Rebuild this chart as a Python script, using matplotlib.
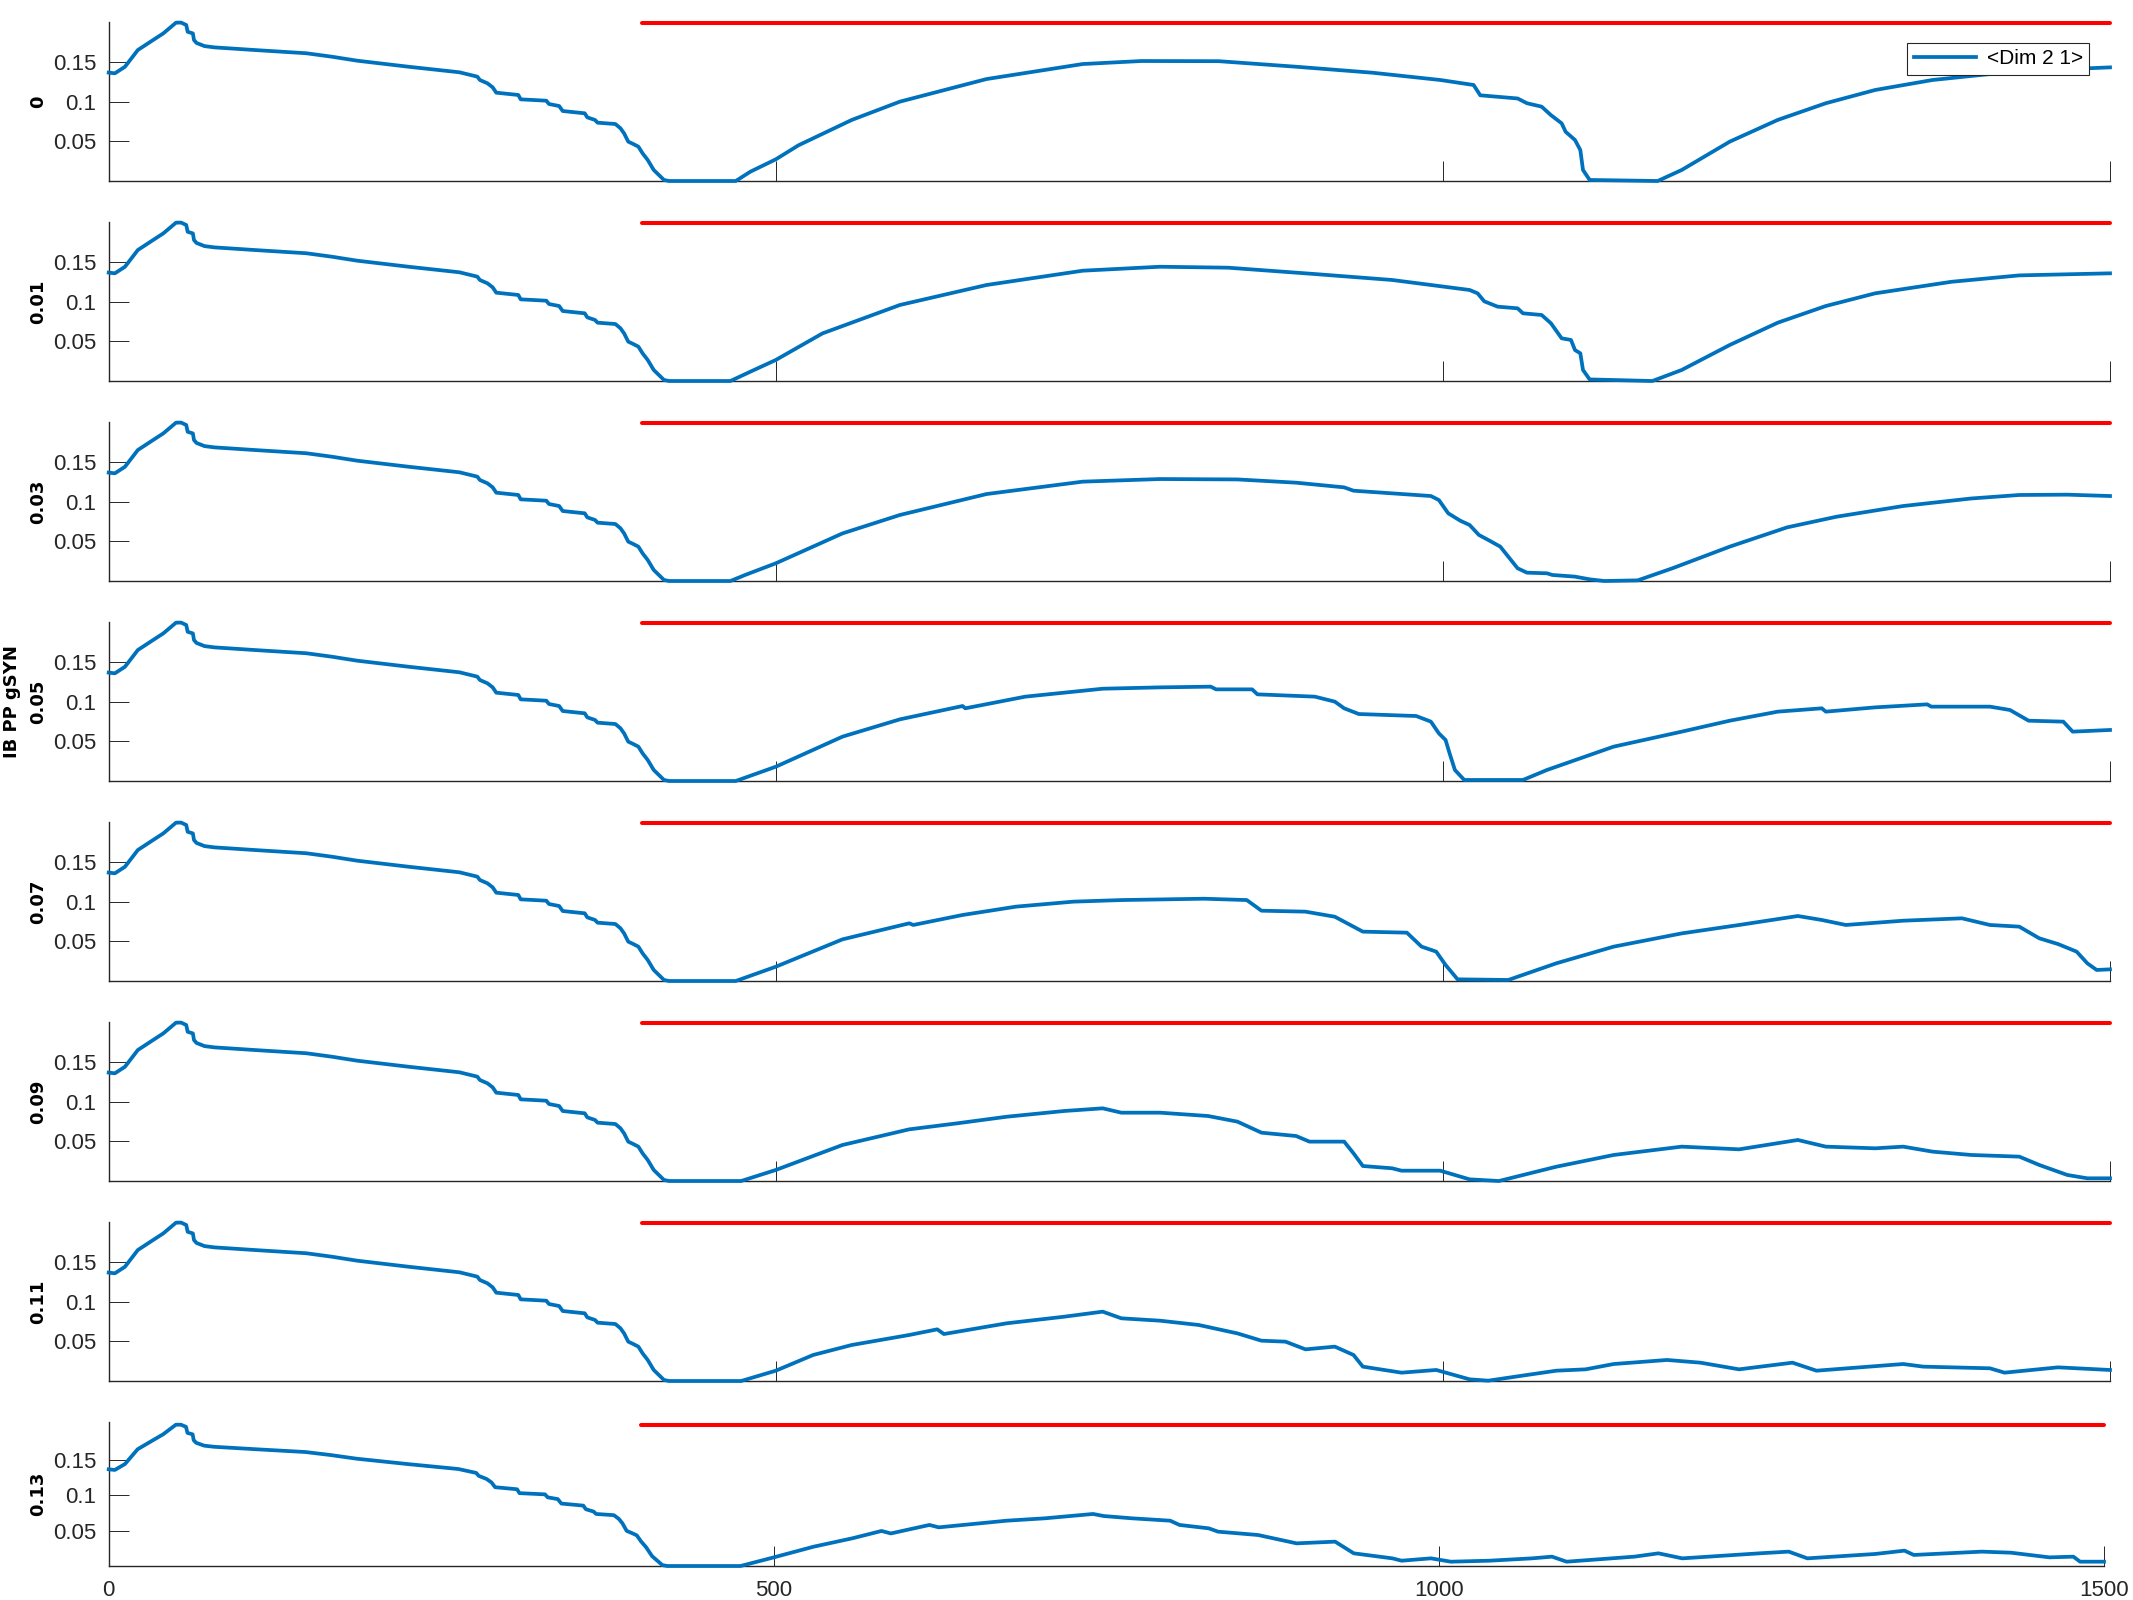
import matplotlib
matplotlib.use('Agg')
import matplotlib.pyplot as plt

plt.rcParams['font.family'] = ['Liberation Sans', 'DejaVu Sans']

# ---------------- data ----------------
# common start shared by all panels
t_common = [0, 4.6, 12.2, 21.8, 33.3, 40.9, 50.5, 54.3, 58.1, 59.2, 63.1, 63.9, 65.8, 71.8, 79.2,
            110, 148, 167, 186.3, 224.7, 262.9, 276.3, 278.2, 284, 287.8, 290.5, 307, 308.8, 328,
            330, 337.6, 340.3, 356.8, 358.7, 364.5, 366.4, 379.8, 383.6, 386.3, 389.4, 393.2, 397,
            400.1, 404, 408.5, 416.2, 420]
y_common = [0.1366, 0.1357, 0.144, 0.165, 0.1777, 0.186, 0.1996, 0.1996, 0.1966, 0.188, 0.186,
            0.1777, 0.174, 0.170, 0.1684, 0.165, 0.161, 0.1567, 0.1516, 0.144, 0.137, 0.1315,
            0.1273, 0.123, 0.118, 0.1113, 0.1084, 0.1029, 0.1012, 0.097, 0.0945, 0.0882, 0.0853,
            0.0802, 0.0769, 0.0735, 0.0718, 0.0664, 0.06, 0.0496, 0.0466, 0.0433, 0.035, 0.0265,
            0.0139, 0.0013, 0.0]

t_g000 = [470, 481, 500, 517, 557, 593, 658, 730, 774, 832, 890, 947, 998, 1023, 1028, 1056, 1063,
          1074, 1081, 1089, 1092, 1099, 1103, 1105, 1110, 1161, 1179, 1215, 1251, 1287, 1324, 1367,
          1410, 1454, 1500]
y_g000 = [0, 0.0118, 0.0273, 0.045, 0.077, 0.10, 0.1285, 0.1474, 0.1512, 0.151, 0.144, 0.1365,
          0.1273, 0.121, 0.108, 0.104, 0.098, 0.0937, 0.083, 0.0727, 0.062, 0.0517, 0.039, 0.0139,
          0.0013, 0, 0.0139, 0.0496, 0.077, 0.098, 0.1147, 0.1273, 0.1348, 0.14, 0.1432]

t_g001 = [466, 481, 500, 535, 593, 658, 730, 788, 839, 904, 962, 1020, 1026, 1031, 1041, 1056, 1060,
          1074, 1081, 1089, 1096, 1099, 1103, 1105, 1110, 1157, 1179, 1215, 1251, 1287, 1324, 1381,
          1432, 1500]
y_g001 = [0, 0.0118, 0.0265, 0.06, 0.0958, 0.121, 0.139, 0.144, 0.1428, 0.1348, 0.1273, 0.1147,
          0.1105, 0.1004, 0.0937, 0.0916, 0.0853, 0.0832, 0.0727, 0.0538, 0.0517, 0.039, 0.0349,
          0.0139, 0.002, 0, 0.0139, 0.0454, 0.0735, 0.0945, 0.1105, 0.125, 0.1331, 0.1357]

t_g003 = [466, 477, 500, 550, 593, 658, 730, 788, 846, 890, 926, 933, 991, 997, 1004, 1013, 1020,
          1027, 1034, 1043, 1049, 1056, 1063, 1078, 1082, 1099, 1110, 1121, 1146, 1172, 1215, 1258,
          1295, 1345, 1396, 1432, 1468, 1500]
y_g003 = [0, 0.0076, 0.0223, 0.06, 0.0832, 0.1096, 0.1252, 0.1285, 0.128, 0.1239, 0.118, 0.1138,
          0.1071, 0.102, 0.0853, 0.076, 0.0706, 0.058, 0.0517, 0.0433, 0.0307, 0.016, 0.0105,
          0.0097, 0.0076, 0.0055, 0.0021, 0, 0.0008, 0.016, 0.0433, 0.0676, 0.081, 0.0945, 0.104,
          0.1084, 0.1088, 0.1071]

t_g005 = [470, 500, 550, 593, 640, 642, 687, 745, 788, 826, 830, 857, 861, 904, 919, 926, 937, 980,
          991, 997, 1002, 1005, 1009, 1016, 1060, 1078, 1128, 1179, 1215, 1251, 1284, 1287, 1324,
          1363, 1366, 1410, 1425, 1439, 1465, 1472, 1500]
y_g005 = [0, 0.018, 0.0559, 0.0777, 0.0945, 0.0916, 0.1063, 0.1163, 0.118, 0.1189, 0.1155, 0.1155,
          0.1092, 0.1063, 0.1, 0.0916, 0.0844, 0.0819, 0.0748, 0.06, 0.0517, 0.0349, 0.0139, 0.0013,
          0.0013, 0.0139, 0.0433, 0.0622, 0.076, 0.0874, 0.0916, 0.0874, 0.0928, 0.0966, 0.0937,
          0.0937, 0.0895, 0.076, 0.0748, 0.0622, 0.0643]

t_g007 = [470, 500, 550, 600, 603, 640, 680, 723, 759, 821, 853, 864, 897, 919, 940, 973, 984, 995,
          1002, 1011, 1049, 1085, 1128, 1179, 1222, 1266, 1284, 1302, 1345, 1389, 1410, 1432, 1447,
          1461, 1475, 1483, 1490, 1500]
y_g007 = [0, 0.018, 0.0525, 0.0727, 0.0706, 0.0832, 0.0937, 0.1, 0.102, 0.1037, 0.102, 0.0886,
          0.0874, 0.081, 0.0622, 0.0609, 0.0433, 0.037, 0.0202, 0.0021, 0.0013, 0.0223, 0.0433,
          0.06, 0.0706, 0.0819, 0.0769, 0.0706, 0.076, 0.079, 0.0706, 0.0685, 0.0538, 0.0466,
          0.037, 0.0223, 0.0139, 0.0147]

t_g009 = [474, 500, 550, 600, 636, 673, 716, 745, 759, 788, 824, 846, 864, 890, 900, 926, 933, 940,
          962, 969, 998, 1020, 1042, 1085, 1128, 1179, 1222, 1266, 1287, 1324, 1345, 1367, 1396,
          1432, 1447, 1468, 1483, 1500]
y_g009 = [0, 0.0139, 0.0454, 0.0651, 0.0727, 0.081, 0.0882, 0.0916, 0.0861, 0.0861, 0.0819,
          0.0748, 0.0609, 0.0567, 0.0496, 0.0496, 0.0349, 0.0189, 0.016, 0.013, 0.013, 0.0021, 0,
          0.018, 0.0328, 0.0433, 0.0399, 0.0517, 0.0433, 0.0412, 0.0433, 0.037, 0.0328, 0.0307,
          0.0202, 0.0076, 0.0034, 0.0034]

t_g011 = [474, 500, 528, 557, 600, 621, 626, 673, 716, 745, 759, 788, 817, 846, 864, 882, 897, 919,
          933, 940, 969, 995, 1020, 1034, 1063, 1085, 1107, 1128, 1168, 1193, 1222, 1262, 1280,
          1345, 1360, 1410, 1421, 1461, 1500]
y_g011 = [0, 0.013, 0.0328, 0.0454, 0.058, 0.0651, 0.0592, 0.0727, 0.081, 0.0874, 0.079, 0.076,
          0.0706, 0.06, 0.0508, 0.0496, 0.0399, 0.0433, 0.0328, 0.0181, 0.0105, 0.0139, 0.0021,
          0.0004, 0.0076, 0.013, 0.0147, 0.0214, 0.0265, 0.0231, 0.0147, 0.0231, 0.013, 0.0214,
          0.0181, 0.016, 0.0105, 0.0172, 0.0139]

t_g013 = [475, 500, 530, 559, 581, 588, 617, 624, 675, 704, 740, 748, 769, 798, 805, 827, 834, 864,
          893, 922, 936, 965, 972, 994, 1009, 1038, 1070, 1085, 1096, 1147, 1165, 1183, 1241, 1263,
          1277, 1328, 1350, 1357, 1408, 1430, 1459, 1477, 1482, 1500]
y_g013 = [0, 0.0122, 0.0273, 0.0391, 0.0495, 0.046, 0.058, 0.0546, 0.064, 0.0674, 0.0735, 0.0706,
          0.0674, 0.064, 0.058, 0.0532, 0.0485, 0.0438, 0.032, 0.0344, 0.0179, 0.0108, 0.0075,
          0.0108, 0.0061, 0.0075, 0.0108, 0.0132, 0.0061, 0.0132, 0.0179, 0.0108, 0.0179, 0.0203,
          0.0108, 0.017, 0.0217, 0.0156, 0.0203, 0.0188, 0.0122, 0.0132, 0.0061, 0.0061]

panel_labels = ['0', '0.01', '0.03', '0.05', '0.07', '0.09', '0.11', '0.13']
series_t = [t_g000, t_g001, t_g003, t_g005, t_g007, t_g009, t_g011, t_g013]
series_y = [y_g000, y_g001, y_g003, y_g005, y_g007, y_g009, y_g011, y_g013]

red_x = [400, 1500]
red_y = [0.199, 0.199]

xticks = [0, 500, 1000, 1500]
xtick_labels = ['0', '500', '1000', '1500']
yticks = [0.05, 0.1, 0.15]
ytick_labels = ['0.05', '0.1', '0.15']
legend_label = '<Dim 2 1>'
group_label = 'IB PP gSYN'

# ---------------- figure ----------------
W, H = 2133, 1600
fig = plt.figure(figsize=(W / 100, H / 100), dpi=100)
axis_color = '#262626'
left_px = 108.7

for k in range(8):
    if k < 7:
        top, bot, right = 22.3 + 200 * k, 181 + 200 * k, 2110
        ytop = 0.2
    else:
        top, bot, right = 1422.3, 1566, 2104
        ytop = 0.203
    ax = fig.add_axes([left_px / W, 1 - bot / H, (right - left_px) / W, (bot - top) / H])
    ax.plot(t_common + series_t[k], y_common + series_y[k], color='#0072BD', lw=2.7,
            label=legend_label, clip_on=False, zorder=3)
    ax.plot(red_x, red_y, color='#FF0000', lw=2.9, solid_capstyle='round', clip_on=False, zorder=3)
    ax.set_xlim(0, 1500)
    ax.set_ylim(0, ytop)
    for s in ['top', 'right']:
        ax.spines[s].set_visible(False)
    for s in ['left', 'bottom']:
        ax.spines[s].set_color(axis_color)
        ax.spines[s].set_linewidth(1.0)
    ax.set_xticks(xticks)
    ax.set_yticks(yticks)
    ax.set_yticklabels(ytick_labels)
    ax.tick_params(direction='in', length=14.4, width=0.7, color=axis_color,
                   labelcolor=axis_color, labelsize=16, pad=9)
    if k < 7:
        ax.tick_params(axis='x', labelbottom=False)
    else:
        ax.set_xticklabels(xtick_labels)
        ax.tick_params(axis='x', pad=10)
    xf = (38 - left_px) / (right - left_px)
    ax.text(xf, 0.5, panel_labels[k], transform=ax.transAxes, rotation=90, ha='center',
            va='center', fontweight='bold', fontsize=13, family=['DejaVu Sans'])
    if k == 3:
        xf2 = (12 - left_px) / (right - left_px)
        ax.text(xf2, 0.5, group_label, transform=ax.transAxes, rotation=90, ha='center',
                va='center', fontweight='bold', fontsize=13, family=['DejaVu Sans'])
    if k == 0:
        leg = ax.legend(loc='upper right', bbox_to_anchor=(2089 / W, 1 - 43 / H),
                        bbox_transform=fig.transFigure, fontsize=15, frameon=True,
                        fancybox=False, edgecolor=axis_color, framealpha=1,
                        borderaxespad=0, borderpad=0.3, handlelength=3.0, handletextpad=0.5)
        leg.get_frame().set_linewidth(0.8)

fig.savefig('out.png', dpi=100)
